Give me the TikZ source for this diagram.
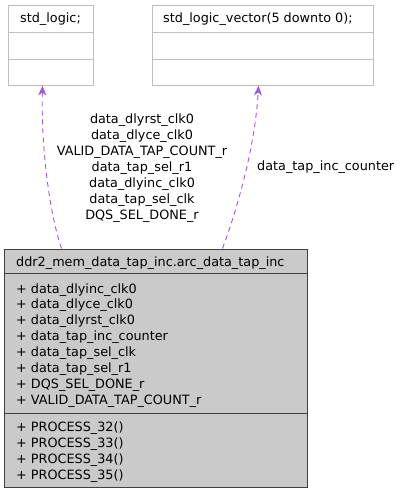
\documentclass[tikz,border=0pt]{standalone}
\usepackage{fontspec}
\setmainfont{DejaVu Sans}
\usepackage{tikz}
\usetikzlibrary{positioning,arrows.meta,calc}
\definecolor{boxgray}{RGB}{191,191,191}
\definecolor{classfill}{RGB}{202,202,202}
\definecolor{usecolor}{RGB}{155,90,225}

\begin{document}
\begin{tikzpicture}[x=1pt, y=-1pt,
    txt/.style={inner sep=0pt, font=\fontsize{12.8}{15.95}\selectfont},
    typebox/.style={draw=boxgray, line width=1pt, inner sep=0pt},
    classbox/.style={draw=black!75, fill=classfill, line width=1pt, inner sep=0pt},
    uses/.style={usecolor, line width=0.9pt, dash pattern=on 5pt off 4pt,
      -{Stealth[length=10pt,width=8pt,inset=3pt]}}]
      \useasboundingbox (0,0) rectangle (407,496);
      % the two type boxes
      \node[typebox, minimum width=85pt, minimum height=80pt] (logic) at (50.5,45) {};
      \draw[boxgray, line width=1pt] (8,32) -- (93,32) (8,59) -- (93,59);
      \node[txt, anchor=base] (logictitle) at (50.5,22.5) {std\_logic;};
      \node[typebox, minimum width=221pt, minimum height=80pt] (vector) at (262.5,45) {};
      \draw[boxgray, line width=1pt] (152,32) -- (373,32) (152,59) -- (373,59);
      \node[txt, anchor=base west] (vectortitle) at (163,22.5) {std\_logic\_vector(5 downto 0);};
      % the class box
      \node[classbox, minimum width=303pt, minimum height=238.5pt] (arch) at (155.5,368.25) {};
      \draw[black!75, line width=1pt] (4,273) -- (307,273) (4,413) -- (307,413);
      \node[txt, anchor=base west] (archtitle) at (16,266) {ddr2\_mem\_data\_tap\_inc.arc\_data\_tap\_inc};
      \foreach \name [count=\i] in {data\_dlyinc\_clk0, data\_dlyce\_clk0, data\_dlyrst\_clk0,
          data\_tap\_inc\_counter, data\_tap\_sel\_clk, data\_tap\_sel\_r1,
          DQS\_SEL\_DONE\_r, VALID\_DATA\_TAP\_COUNT\_r}
        \node[txt, anchor=base west] (attr\i) at (16,{293+15.95*(\i-1)}) {+ \name};
      \foreach \num [count=\i] in {32,33,34,35}
        \node[txt, anchor=base west] (proc\i) at (16,{431+16*(\i-1)}) {+ PROCESS\_\num()};
      % usage edges
      \draw[uses] ($(arch.north west)+(58,0)$) .. controls (50,215) and (41,150) .. ($(logic.south west)+(35,0)$);
      \draw[uses] ($(arch.north west)+(219,0)$) .. controls (235,215) and (255,150) .. ($(vector.south west)+(107,0)$);
      \node[txt, align=center, anchor=base] (logiclabel) at (142,219)
        {data\_dlyrst\_clk0\\data\_dlyce\_clk0\\VALID\_DATA\_TAP\_COUNT\_r\\data\_tap\_sel\_r1\\data\_dlyinc\_clk0\\data\_tap\_sel\_clk\\DQS\_SEL\_DONE\_r};
      \node[txt, anchor=base west] (vectorlabel) at (257,170.7) {data\_tap\_inc\_counter};
    \end{tikzpicture}
\end{document}
